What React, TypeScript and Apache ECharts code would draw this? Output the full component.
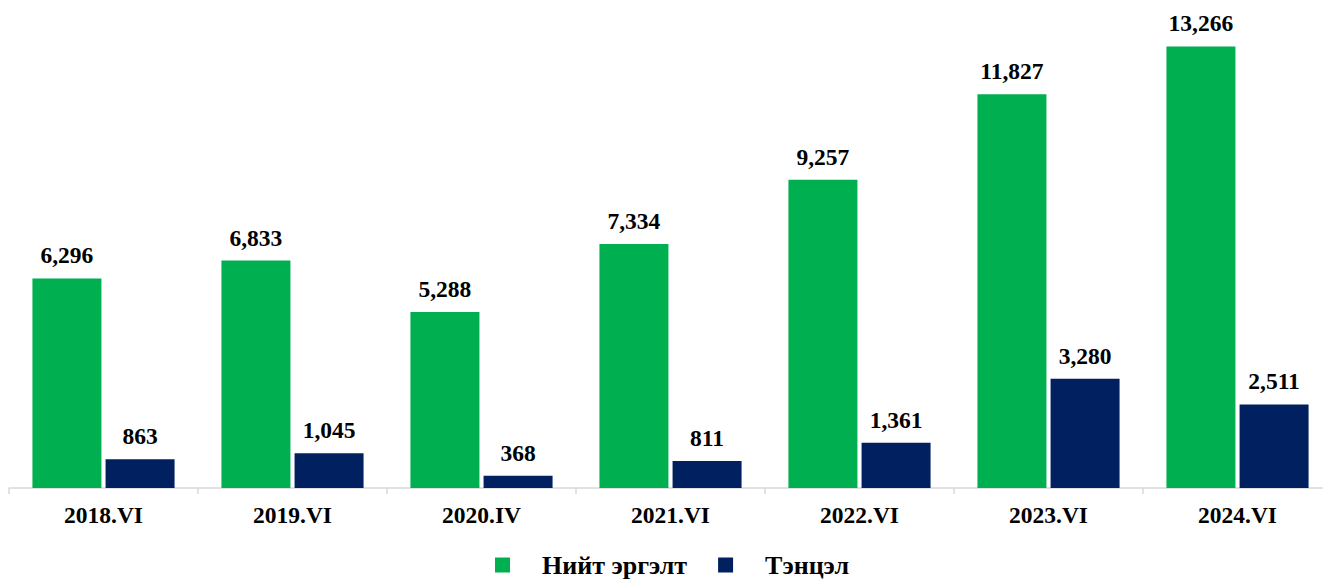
import React, { useEffect, useRef } from "react";
import * as echarts from "echarts";

const categories = ["2018.VI", "2019.VI", "2020.IV", "2021.VI", "2022.VI", "2023.VI", "2024.VI"];
const totalTurnover = [6296, 6833, 5288, 7334, 9257, 11827, 13266];
const balance = [863, 1045, 368, 811, 1361, 3280, 2511];
const seriesNames = ["Нийт эргэлт", "Тэнцэл"];

const FONT = "'Liberation Serif', 'Times New Roman', serif";

export default function App() {
  const ref = useRef<HTMLDivElement>(null);
  useEffect(() => {
    if (!ref.current) return;
    const chart = echarts.init(ref.current, null, { renderer: "svg" });
    const labelCfg = {
      show: true,
      position: "top" as const,
      distance: 11,
      fontFamily: FONT,
      fontWeight: "bold" as const,
      fontSize: 23.5,
      color: "#000",
      formatter: (p: any) => Number(p.value).toLocaleString("en-US"),
    };
    chart.setOption({
      animation: false,
      backgroundColor: "#fff",
      grid: { left: 9, right: 0, top: 22, bottom: 93, containLabel: false },
      legend: {
        top: 552,
        left: 495,
        padding: 0,
        itemWidth: 15,
        itemHeight: 15,
        itemGap: 31,
        icon: "rect",
        textStyle: {
          fontFamily: FONT,
          fontWeight: "bold",
          fontSize: 26,
          color: "#000",
          padding: [0, 0, 0, 27],
        },
        data: seriesNames,
      },
      xAxis: {
        type: "category",
        data: categories,
        axisLine: { show: true, lineStyle: { color: "#d9d9d9", width: 1.5 } },
        axisTick: { show: true, length: 6, lineStyle: { color: "#d9d9d9", width: 1.5 } },
        axisLabel: {
          fontFamily: FONT,
          fontWeight: "bold",
          fontSize: 23.5,
          color: "#000",
          margin: 15,
        },
      },
      yAxis: {
        type: "value",
        min: 0,
        max: 14000,
        show: false,
        splitLine: { show: false },
      },
      series: [
        {
          name: seriesNames[0],
          type: "bar",
          data: totalTurnover,
          barWidth: 69,
          barGap: "6%",
          itemStyle: { color: "#00B050" },
          label: labelCfg,
        },
        {
          name: seriesNames[1],
          type: "bar",
          data: balance,
          barWidth: 69,
          itemStyle: { color: "#002060" },
          label: labelCfg,
        },
      ],
    });
    return () => chart.dispose();
  }, []);
  return (
    <div
      ref={ref}
      style={{ position: "fixed", left: 0, top: 0, width: 1332, height: 581 }}
    />
  );
}
